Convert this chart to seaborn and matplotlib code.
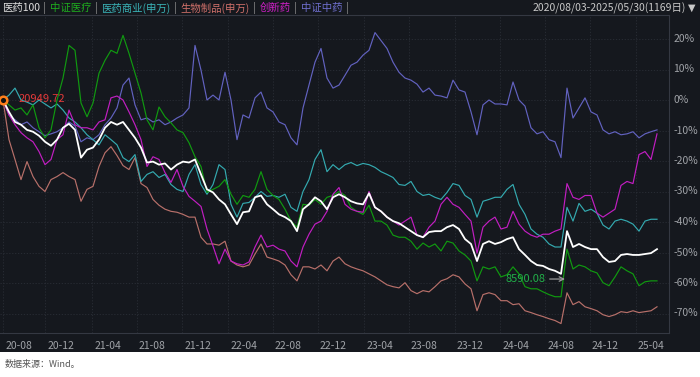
import numpy as np
import pandas as pd
import matplotlib
matplotlib.use("Agg")
import matplotlib.pyplot as plt
import seaborn as sns

# ---------------- data (cumulative % change since 2020-08-03) ----------------
series_names = ["医药100", "中证医疗", "医药商业(申万)", "生物制品(申万)", "创新药", "中证中药"]

yiyao100 = [0, -3.9, -7.2, -8.1, -9.8, -10.4, -11.7, -13.7, -15.0, -13.0, -9.1, -7.8, -9.8, -18.9,
            -16.3, -15.6, -13.0, -9.1, -7.2, -8.1, -7.2, -9.8, -12.4, -15.6, -20.5, -20.2, -21.2,
            -20.8, -22.8, -21.2, -20.2, -20.5, -19.5, -24.4, -29.3, -30.3, -32.6, -34.2, -37.5,
            -40.7, -36.8, -36.5, -31.9, -31.3, -34.2, -35.8, -37.5, -38.4, -39.7, -43.0, -35.8,
            -34.2, -31.9, -33.2, -35.8, -31.9, -30.9, -31.9, -33.2, -33.9, -34.2, -30.6, -35.2,
            -36.5, -38.4, -39.7, -40.4, -41.7, -43.0, -44.3, -45.0, -43.3, -43.0, -43.0, -41.7,
            -41.0, -42.3, -45.6, -47.2, -52.8, -47.2, -46.3, -47.2, -46.6, -45.6, -45.0, -48.9,
            -50.8, -52.8, -54.1, -54.4, -55.4, -56.0, -57.0, -43.0, -48.2, -47.2, -48.2, -48.9,
            -48.9, -51.5, -53.1, -52.8, -50.8, -50.5, -50.8, -50.8, -50.5, -50.2, -48.9]

zz_yiliao = [0, -1.6, -3.3, -2.6, -4.9, -1.6, -9.1, -12.4, -9.8, 0, 7.2, 17.9, 16.3, -1.0, -5.5,
             -1.0, 8.8, 13.0, 16.3, 15.3, 21.2, 15.3, 8.8, 2.3, -6.5, -9.8, -2.3, -5.5, -7.5, -9.8,
             -10.7, -14.0, -18.6, -21.8, -30.3, -29.3, -28.3, -26.1, -30.9, -34.2, -31.3, -31.9,
             -29.3, -23.5, -29.3, -31.3, -32.6, -35.8, -39.7, -41.7, -34.2, -34.5, -32.6, -34.2,
             -31.9, -31.3, -30.0, -31.3, -35.2, -36.5, -37.5, -34.5, -39.7, -39.7, -41.0, -44.3,
             -45.0, -45.0, -46.3, -48.9, -46.9, -48.2, -47.2, -49.5, -46.3, -46.9, -49.5, -50.8,
             -52.8, -59.3, -54.7, -55.4, -54.7, -58.0, -57.3, -54.7, -57.0, -61.2, -61.9, -61.9,
             -62.9, -63.8, -64.5, -64.5, -48.9, -55.4, -54.1, -54.7, -56.0, -56.7, -59.9, -60.9,
             -58.0, -54.7, -56.0, -57.0, -60.9, -59.6, -59.3, -59.3]

yy_shangye = [0, 1.6, 3.9, 0, -0.7, -1.6, 0, -1.3, -2.6, -1.3, -3.3, -5.9, -7.2, -9.1, -11.4,
              -13.0, -14.7, -11.4, -13.0, -14.7, -18.9, -20.2, -17.9, -26.7, -24.4, -23.5, -25.4,
              -24.4, -27.7, -29.3, -30.0, -24.4, -21.2, -27.7, -30.9, -27.7, -21.2, -22.8, -34.2,
              -38.4, -33.9, -33.6, -31.9, -30.0, -31.6, -31.3, -31.9, -30.9, -35.2, -36.5, -30.0,
              -26.1, -19.5, -16.3, -23.5, -21.2, -22.8, -21.2, -20.5, -21.5, -20.8, -21.2, -22.1,
              -23.5, -24.4, -25.4, -27.7, -28.0, -26.7, -30.0, -31.3, -30.9, -31.9, -32.6, -30.3,
              -27.4, -28.0, -31.3, -32.6, -38.4, -33.2, -32.6, -31.9, -31.9, -29.3, -27.7, -34.2,
              -37.5, -42.3, -44.0, -45.0, -47.2, -48.2, -48.2, -35.2, -39.7, -33.9, -36.5, -35.8,
              -37.1, -41.0, -42.3, -39.7, -39.1, -39.7, -40.7, -43.0, -39.7, -39.1, -39.1]

sw_shengwu = [0, -13.0, -19.5, -26.1, -20.2, -25.1, -28.3, -30.0, -26.1, -25.1, -23.8, -25.1,
              -26.1, -33.2, -29.3, -28.3, -21.8, -17.3, -15.3, -18.2, -21.5, -22.8, -18.9, -27.4,
              -28.7, -32.6, -34.5, -35.8, -36.5, -36.8, -37.5, -38.4, -38.4, -45.0, -47.2, -47.2,
              -47.6, -46.3, -52.8, -54.1, -54.7, -54.1, -50.5, -47.2, -51.5, -52.1, -52.8, -54.1,
              -57.3, -59.3, -54.7, -54.7, -55.4, -54.1, -56.0, -52.8, -51.5, -53.7, -54.7, -55.4,
              -56.0, -57.0, -58.0, -59.3, -60.6, -61.2, -61.6, -59.9, -62.5, -63.5, -62.5, -62.9,
              -61.2, -59.3, -58.6, -57.3, -58.0, -60.3, -61.9, -69.1, -63.8, -63.2, -63.8, -65.8,
              -65.8, -67.1, -66.8, -69.1, -69.7, -70.4, -71.0, -71.7, -72.3, -73.3, -63.2, -67.1,
              -66.1, -67.8, -68.4, -69.1, -70.4, -71.0, -70.4, -69.4, -69.7, -69.1, -69.7, -69.4,
              -69.1, -67.8]

chuangxin = [0, -4.9, -8.1, -10.7, -12.4, -13.7, -16.9, -21.2, -19.5, -13.0, -11.4, -3.3, -8.1,
             -9.1, -9.1, -9.8, -7.2, -6.5, 0.7, 1.3, 0, -3.9, -8.1, -13.0, -21.8, -18.6, -19.5,
             -23.8, -27.0, -22.8, -28.3, -31.6, -33.2, -34.9, -42.3, -47.9, -53.7, -48.9, -52.8,
             -53.7, -54.1, -53.1, -48.2, -44.3, -48.2, -47.6, -48.9, -49.5, -52.8, -54.7, -48.2,
             -44.0, -40.7, -39.7, -36.5, -30.9, -28.7, -34.2, -35.8, -36.5, -36.8, -30.0, -35.2,
             -36.5, -38.4, -39.7, -41.0, -39.7, -38.4, -44.3, -45.0, -41.7, -39.7, -34.2, -31.9,
             -34.2, -35.2, -37.5, -39.7, -50.2, -41.7, -39.7, -38.4, -42.3, -41.7, -36.5, -40.7,
             -43.0, -44.3, -45.0, -44.0, -44.0, -43.0, -42.3, -27.4, -31.9, -32.6, -31.3, -31.3,
             -37.1, -38.4, -37.1, -35.8, -28.0, -26.7, -27.4, -17.9, -16.9, -19.5, -11.1]

zz_zhongyao = [0, -4.9, -6.5, -8.1, -7.2, -9.1, -10.4, -11.7, -11.1, -10.4, -9.1, -7.2, -8.5,
               -13.7, -12.4, -13.0, -11.4, -8.1, -5.9, -2.6, 4.9, 7.2, -1.6, -6.5, -5.9, -7.2,
               -6.5, -8.1, -7.2, -5.9, -4.9, -2.6, 17.9, 9.8, 0, 1.6, 0, 9.1, 0, -13.0, -4.9,
               -5.9, 0.7, 2.6, -2.6, -3.9, -7.2, -8.1, -12.4, -14.7, -2.6, 4.9, 12.4, 16.9, 7.2,
               3.9, 4.9, 8.1, 11.4, 12.4, 14.7, 16.3, 22.1, 19.5, 16.9, 12.4, 9.1, 7.2, 6.5, 5.2,
               2.6, 3.9, 1.6, 1.3, 0.7, 6.5, 3.3, 2.6, -3.9, -11.4, -1.6, 0, -1.3, -1.3, -1.6,
               5.9, 0, -2.0, -9.1, -11.1, -10.4, -13.0, -13.7, -18.9, 3.9, -5.9, -2.6, 0.7, -3.9,
               -4.9, -9.8, -11.1, -10.4, -11.4, -11.1, -10.4, -12.4, -11.1, -10.4, -9.8]

tick_labels = ["20-08", "20-12", "21-04", "21-08", "21-12", "22-04", "22-08", "22-12",
               "23-04", "23-08", "23-12", "24-04", "24-08", "24-12", "25-04"]
tick_days = [0, 75, 159, 239, 320, 402, 482, 562, 645, 725, 807, 888, 968, 1048, 1130]
total_days = 1169
y_ticks = [20, 10, 0, -10, -20, -30, -40, -50, -60, -70]
start_label = "20949.72"
low_label = "8590.08"
date_range = "2020/08/03-2025/05/30(1169日)"
source = "数据来源：Wind。"

values = [yiyao100, zz_yiliao, yy_shangye, sw_shengwu, chuangxin, zz_zhongyao]
n = len(yiyao100)
days = np.linspace(0, total_days - 1, n)
frames = [pd.DataFrame({"day": days, "pct": v, "name": nm}) for nm, v in zip(series_names, values)]
df = pd.concat(frames, ignore_index=True)

colors = {"医药100": "#ffffff", "中证医疗": "#109a10", "医药商业(申万)": "#34aab0",
          "生物制品(申万)": "#b8706a", "创新药": "#c21ec2", "中证中药": "#6262c0"}
text_colors = {"医药100": "#e0e0e0", "中证医疗": "#1fae1f", "医药商业(申万)": "#3ab4b8",
               "生物制品(申万)": "#d0706a", "创新药": "#d020c8", "中证中药": "#7070d0"}

# ---------------- figure ----------------
W, H = 700, 377
BG = "#15181e"
fig = plt.figure(figsize=(W / 100, H / 100), dpi=100)
fig.patch.set_facecolor(BG)
plt.rcParams["font.family"] = ["Noto Sans CJK SC", "DejaVu Sans"]

def fx(px):
    return px / W

def fy(py):
    return 1 - py / H

# white footer
fig.add_artist(plt.Rectangle((0, 0), 1, fy(352), transform=fig.transFigure,
                             facecolor="white", edgecolor="none", zorder=0))

ax_left, ax_right, ax_top, ax_bot = 0, 669, 15, 333
ax = fig.add_axes([fx(ax_left), fy(ax_bot), fx(ax_right - ax_left), (ax_bot - ax_top) / H])
ax.set_facecolor(BG)

draw_order = ["中证中药", "生物制品(申万)", "医药商业(申万)", "中证医疗", "创新药", "医药100"]
for nm in draw_order:
    sub = df[df["name"] == nm]
    sns.lineplot(data=sub, x="day", y="pct", ax=ax, color=colors[nm],
                 linewidth=1.3 if nm == "医药100" else 0.85, legend=False)

px_per_day = (657 - 3) / (total_days - 1)
ax.set_xlim(-3 / px_per_day, (ax_right - 3) / px_per_day)
ax.set_ylim((100 - ax_bot) / 3.05, (100 - ax_top) / 3.05)

ax.set_yticks(y_ticks)
ax.set_xticks(tick_days)
ax.grid(True, color="#2a2e36", linestyle=(0, (1.5, 2)), linewidth=0.6)
ax.set_axisbelow(True)
ax.tick_params(left=False, bottom=False, labelleft=False, labelbottom=False)
for s in ["left", "bottom"]:
    ax.spines[s].set_visible(False)
ax.spines["top"].set_color("#343842")
ax.spines["top"].set_linewidth(0.8)
ax.spines["right"].set_color("#343842")
ax.spines["right"].set_linewidth(0.8)
ax.set_xlabel("")
ax.set_ylabel("")

# right axis labels
for v in y_ticks:
    ax.annotate(f"{v}%", xy=(1, v), xycoords=("axes fraction", "data"),
                xytext=(3, 0), textcoords="offset points", ha="left", va="center",
                color="#a0a3a8", fontsize=7.5)

# x labels strip
fig.add_artist(plt.Line2D([0, fx(ax_right)], [fy(ax_bot), fy(ax_bot)], transform=fig.transFigure,
                          color="#343842", linewidth=0.8))
for d, lab in zip(tick_days, tick_labels):
    ax.annotate(lab, xy=(d, 0), xycoords=("data", "axes fraction"),
                xytext=(1.5, -6), textcoords="offset points", ha="left", va="top",
                color="#a0a3a8", fontsize=7.5)

# start marker and labels
ax.plot([days[0]], [yiyao100[0]], marker="o", markersize=5.5, markerfacecolor="#111111",
        markeredgecolor="#ff7f1a", markeredgewidth=1.8, zorder=10, clip_on=False)
ax.annotate(start_label, xy=(days[0], yiyao100[0]), xytext=(11, 0.5), textcoords="offset points",
            ha="left", va="center", color="#e23a3a", fontsize=8, zorder=11)

# low label with arrow
low_day = (565 - 3) / px_per_day
ax.annotate(low_label, xy=(low_day, -58.7), xytext=(-14, 0), textcoords="offset points",
            ha="right", va="center", color="#22b04a", fontsize=8, zorder=11,
            arrowprops=dict(arrowstyle="->", color="#9a9a9a", lw=0.9, shrinkA=1, shrinkB=0))

# top legend line
items = []
for nm in series_names:
    t = fig.text(fx(2), fy(8), nm, color=text_colors[nm], fontsize=7.5, ha="left", va="center")
    items.append(t)
fig.canvas.draw()
r = fig.canvas.get_renderer()
xpos = 2
for t in items:
    t.set_x(fx(xpos))
    w = t.get_window_extent(r).width
    xpos += w + 3
    fig.text(fx(xpos), fy(8), "|", color="#9a9a9a", fontsize=7.5, ha="left", va="center")
    xpos += 7

fig.text(fx(686), fy(8), date_range, color="#c8c8c8", fontsize=7.5, ha="right", va="center")
fig.text(fx(688), fy(8), "▼", color="#c8c8c8", fontsize=7, ha="left", va="center",
         family=["DejaVu Sans"])

fig.text(fx(5), fy(365), source, color="#555555", fontsize=6.5, ha="left", va="center")

fig.savefig("out.png", dpi=100, facecolor=fig.get_facecolor())
